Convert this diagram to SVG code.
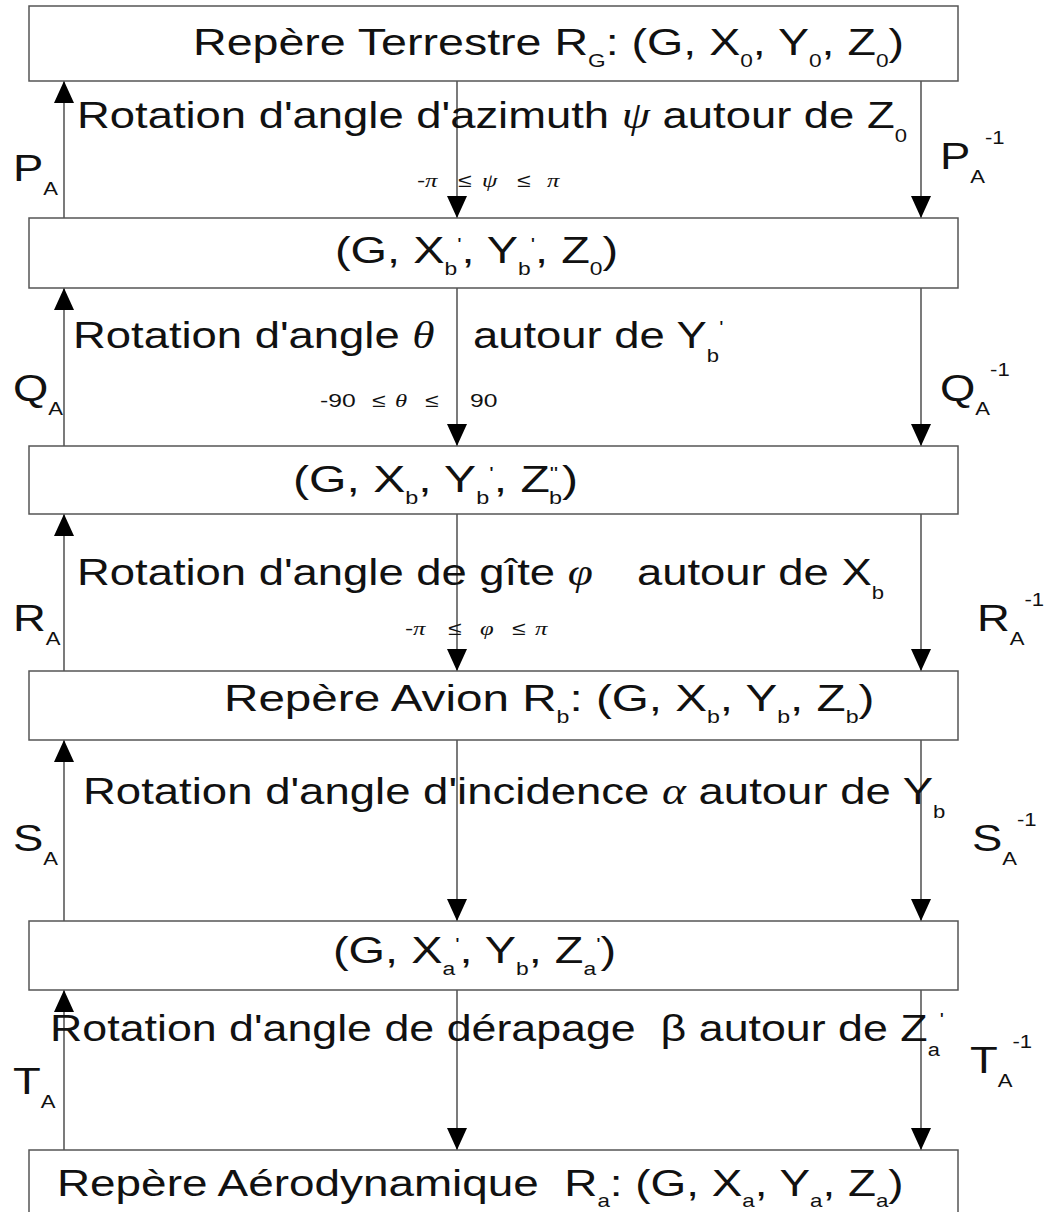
<svg xmlns="http://www.w3.org/2000/svg" width="1048" height="1212" viewBox="0 0 1048 1212">
<style>
.box{fill:#fff;stroke:#555;stroke-width:1.5}
.ln{stroke:#222;stroke-width:1.2;fill:none}
.t{font-family:"Liberation Sans",Arial,sans-serif;font-size:37px;fill:#111}
.s{font-size:18px}
.g{font-family:"Liberation Serif","Times New Roman",serif;font-style:italic}
.sm{font-family:"Liberation Sans",Arial,sans-serif;font-size:19px;fill:#111}
</style>
<defs>
<marker id="ah" viewBox="0 0 22 20" refX="22" refY="10" markerWidth="22" markerHeight="20" markerUnits="userSpaceOnUse" orient="auto">
<path d="M0,0 L22,10 L0,20 z" fill="#000"/>
</marker>
</defs>
<rect width="1048" height="1212" fill="#fff"/>

<g id="connectors">
<line class="ln" x1="64" y1="218" x2="64" y2="81" marker-end="url(#ah)"/>
<line class="ln" x1="457" y1="81" x2="457" y2="218" marker-end="url(#ah)"/>
<line class="ln" x1="921" y1="81" x2="921" y2="218" marker-end="url(#ah)"/>
<line class="ln" x1="64" y1="446" x2="64" y2="288" marker-end="url(#ah)"/>
<line class="ln" x1="457" y1="288" x2="457" y2="446" marker-end="url(#ah)"/>
<line class="ln" x1="921" y1="288" x2="921" y2="446" marker-end="url(#ah)"/>
<line class="ln" x1="64" y1="671" x2="64" y2="514" marker-end="url(#ah)"/>
<line class="ln" x1="457" y1="514" x2="457" y2="671" marker-end="url(#ah)"/>
<line class="ln" x1="921" y1="514" x2="921" y2="671" marker-end="url(#ah)"/>
<line class="ln" x1="64" y1="921" x2="64" y2="740" marker-end="url(#ah)"/>
<line class="ln" x1="457" y1="740" x2="457" y2="921" marker-end="url(#ah)"/>
<line class="ln" x1="921" y1="740" x2="921" y2="921" marker-end="url(#ah)"/>
<line class="ln" x1="64" y1="1150" x2="64" y2="990" marker-end="url(#ah)"/>
<line class="ln" x1="457" y1="990" x2="457" y2="1150" marker-end="url(#ah)"/>
<line class="ln" x1="921" y1="990" x2="921" y2="1150" marker-end="url(#ah)"/>
</g>

<g id="node-terrestre">
<rect class="box" x="29" y="6" width="929" height="75"/>
<text class="t" transform="translate(193,55) scale(1.259,1)">Repère Terrestre R<tspan class="s" dy="12">G</tspan><tspan dy="-12">: (G, X</tspan><tspan class="s" dy="12">0</tspan><tspan dy="-12">, Y</tspan><tspan class="s" dy="12">0</tspan><tspan dy="-12">, Z</tspan><tspan class="s" dy="12">0</tspan><tspan dy="-12">)</tspan></text>
</g>

<g id="node-b1">
<rect class="box" x="29" y="218" width="929" height="70"/>
<text class="t" transform="translate(335,263) scale(1.268,1)">(G, X<tspan class="s" dy="12">b</tspan><tspan class="s" dy="-24">'</tspan><tspan dy="12">, Y</tspan><tspan class="s" dy="12">b</tspan><tspan class="s" dy="-24">'</tspan><tspan dy="12">, Z</tspan><tspan class="s" dy="12">0</tspan><tspan dy="-12">)</tspan></text>
</g>

<g id="node-b2">
<rect class="box" x="29" y="446" width="929" height="68"/>
<text class="t" transform="translate(293,492) scale(1.3,1)">(G, X<tspan class="s" dy="12">b</tspan><tspan dy="-12">, Y</tspan><tspan class="s" dy="12">b</tspan><tspan class="s" dy="-24">'</tspan><tspan dy="12">, Z</tspan><tspan class="s" dy="-12">"</tspan><tspan class="s" dx="-7" dy="24">b</tspan><tspan dy="-12">)</tspan></text>
</g>

<g id="node-avion">
<rect class="box" x="29" y="671" width="929" height="69"/>
<text class="t" transform="translate(224,711) scale(1.287,1)">Repère Avion R<tspan class="s" dy="12">b</tspan><tspan dy="-12">: (G, X</tspan><tspan class="s" dy="12">b</tspan><tspan dy="-12">, Y</tspan><tspan class="s" dy="12">b</tspan><tspan dy="-12">, Z</tspan><tspan class="s" dy="12">b</tspan><tspan dy="-12">)</tspan></text>
</g>

<g id="node-a1">
<rect class="box" x="29" y="921" width="929" height="69"/>
<text class="t" transform="translate(333,963) scale(1.268,1)">(G, X<tspan class="s" dy="12">a</tspan><tspan class="s" dy="-24">'</tspan><tspan dy="12">, Y</tspan><tspan class="s" dy="12">b</tspan><tspan dy="-12">, Z</tspan><tspan class="s" dy="12">a</tspan><tspan class="s" dy="-24">'</tspan><tspan dy="12">)</tspan></text>
</g>

<g id="node-aero">
<rect class="box" x="29" y="1150" width="929" height="80"/>
<text class="t" transform="translate(57,1196) scale(1.24,1)">Repère Aérodynamique&#160; R<tspan class="s" dy="11">a</tspan><tspan dy="-11">: (G, X</tspan><tspan class="s" dy="11">a</tspan><tspan dy="-11">, Y</tspan><tspan class="s" dy="11">a</tspan><tspan dy="-11">, Z</tspan><tspan class="s" dy="11">a</tspan><tspan dy="-11">)</tspan></text>
</g>

<g id="labels">
<text class="t" transform="translate(77,128) scale(1.227,1)">Rotation d'angle d'azimuth <tspan class="g">ψ</tspan> autour de Z<tspan class="s" dy="14">0</tspan></text>
<text class="sm" transform="translate(0,187) scale(1.3,1)"><tspan x="320.8">-</tspan><tspan class="g" x="326.9">π</tspan><tspan x="352.3">≤</tspan><tspan class="g" x="370.8">ψ</tspan><tspan x="397.7">≤</tspan><tspan class="g" x="420.8">π</tspan></text>
<text class="t" transform="translate(13,181) scale(1.227,1)">P<tspan class="s" dy="14">A</tspan></text>
<text class="t" transform="translate(940,169) scale(1.227,1)">P<tspan class="s" dy="14">A</tspan><tspan class="s" dy="-39">-1</tspan></text>

<text class="t" transform="translate(73,348) scale(1.227,1)">Rotation d'angle <tspan class="g">θ</tspan><tspan x="326">autour de Y</tspan><tspan class="s" dy="14">b</tspan><tspan class="s" dy="-28">'</tspan></text>
<text class="sm" transform="translate(0,407) scale(1.3,1)"><tspan x="246.2">-90</tspan><tspan x="286.2">≤</tspan><tspan class="g" x="303.8">θ</tspan><tspan x="326.9">≤</tspan><tspan x="361.5">90</tspan></text>
<text class="t" transform="translate(13,401) scale(1.227,1)">Q<tspan class="s" dy="14">A</tspan></text>
<text class="t" transform="translate(940,401) scale(1.227,1)">Q<tspan class="s" dy="14">A</tspan><tspan class="s" dy="-39">-1</tspan></text>

<text class="t" transform="translate(77,585) scale(1.227,1)">Rotation d'angle de gîte <tspan class="g">φ</tspan><tspan x="456.4">autour de X</tspan><tspan class="s" dy="14">b</tspan></text>
<text class="sm" transform="translate(0,635) scale(1.3,1)"><tspan x="311.5">-</tspan><tspan class="g" x="317.7">π</tspan><tspan x="344.6">≤</tspan><tspan class="g" x="369.2">φ</tspan><tspan x="393.8">≤</tspan><tspan class="g" x="411.5">π</tspan></text>
<text class="t" transform="translate(13,631) scale(1.227,1)">R<tspan class="s" dy="14">A</tspan></text>
<text class="t" transform="translate(977,631) scale(1.227,1)">R<tspan class="s" dy="14">A</tspan><tspan class="s" dy="-39">-1</tspan></text>

<text class="t" transform="translate(83,804) scale(1.23,1)">Rotation d'angle d'incidence <tspan class="g">α</tspan> autour de Y<tspan class="s" dy="14">b</tspan></text>
<text class="t" transform="translate(13,851) scale(1.227,1)">S<tspan class="s" dy="14">A</tspan></text>
<text class="t" transform="translate(972,851) scale(1.227,1)">S<tspan class="s" dy="14">A</tspan><tspan class="s" dy="-39">-1</tspan></text>

<text class="t" transform="translate(50,1041) scale(1.21,1)">Rotation d'angle de dérapage&#160; β autour de Z<tspan class="s" dy="15">a</tspan><tspan class="s" dy="-30">'</tspan></text>
<text class="t" transform="translate(13,1094) scale(1.227,1)">T<tspan class="s" dy="14">A</tspan></text>
<text class="t" transform="translate(970,1073) scale(1.227,1)">T<tspan class="s" dy="14">A</tspan><tspan class="s" dy="-39">-1</tspan></text>
</g>
</svg>
